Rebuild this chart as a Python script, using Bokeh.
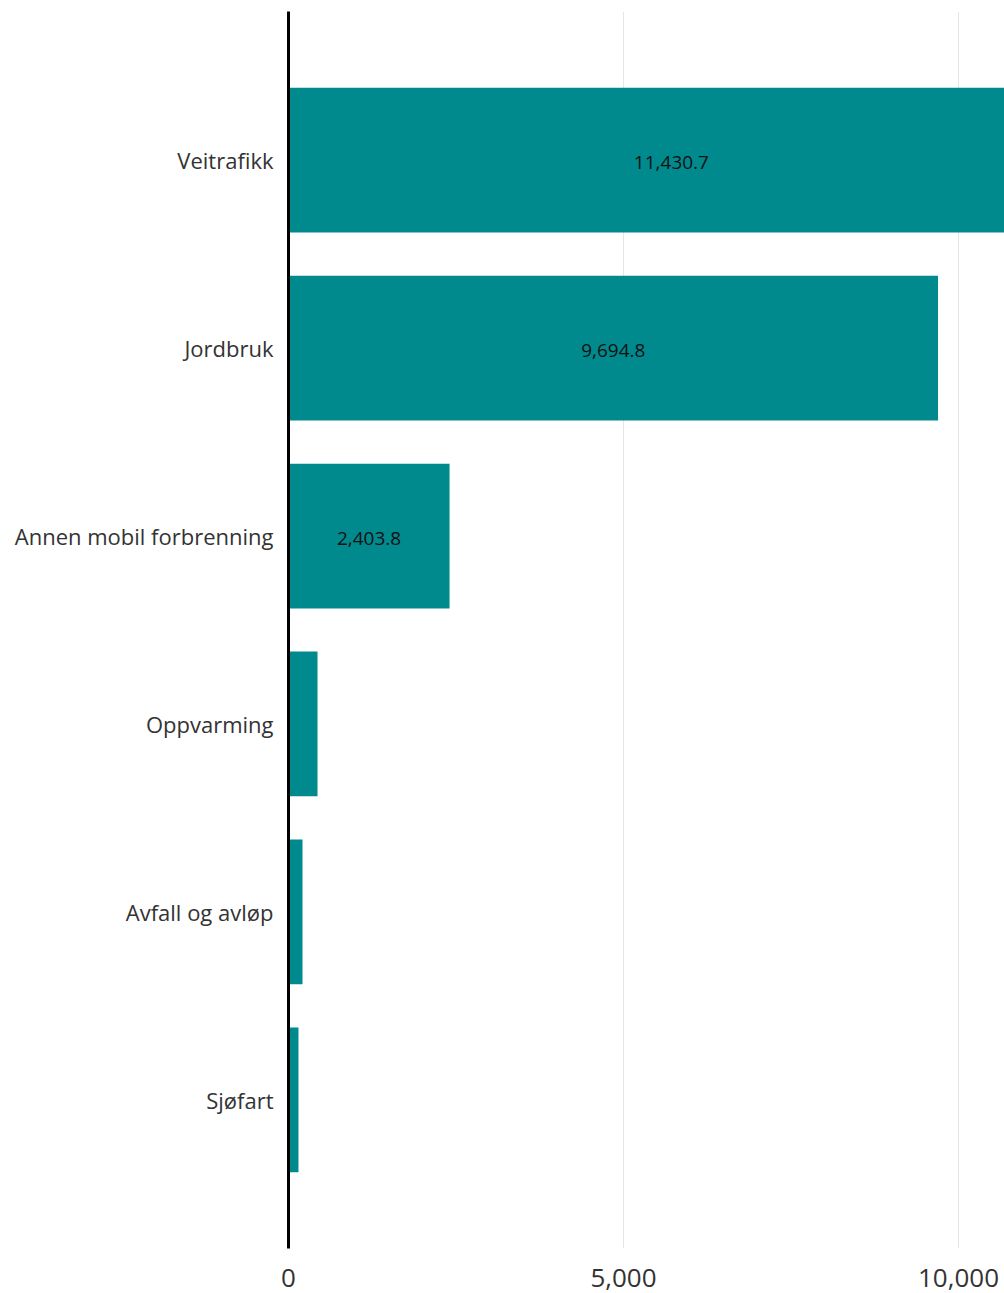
from bokeh.plotting import figure
from bokeh.models import ColumnDataSource, FactorRange, NumeralTickFormatter, FixedTicker
from bokeh.core.properties import value
from bokeh.embed import file_html
from bokeh.resources import INLINE

categories = ["Veitrafikk", "Jordbruk", "Annen mobil forbrenning", "Oppvarming", "Avfall og avløp", "Sjøfart"]
values = [11430.7, 9694.8, 2403.8, 433.0, 209.0, 149.0]
labels = ["11,430.7", "9,694.8", "2,403.8", "", "", ""]
x_ticks = [0, 5000, 10000]

src = ColumnDataSource(dict(cat=categories, val=values, half=[v / 2 for v in values], lab=labels))

p = figure(
    width=1004, height=1293,
    y_range=FactorRange(factors=list(reversed(categories)), range_padding=0.29, range_padding_units="absolute"),
    x_range=(0, 10687),
    output_backend="svg", toolbar_location=None,
    min_border_left=288, min_border_top=11, min_border_bottom=45, min_border_right=0,
)
p.hbar(y="cat", right="val", left=0, height=0.77, source=src, color="#008A8E", line_color=None)
p.text(x="half", y="cat", text="lab", source=src, text_align="center", text_baseline="middle",
       text_font=value("Open Sans"), text_font_size="19px", text_color="#111111", y_offset=2)

p.outline_line_color = None
p.background_fill_color = "white"
p.border_fill_color = "white"

p.xgrid.grid_line_color = "#e6e6e6"
p.xgrid.grid_line_width = 1
p.ygrid.grid_line_color = None

p.xaxis.ticker = FixedTicker(ticks=x_ticks)
p.xaxis.formatter = NumeralTickFormatter(format="0,0")
p.xaxis.axis_line_color = None
p.xaxis.major_tick_line_color = None
p.xaxis.minor_tick_line_color = None
p.xaxis.major_label_standoff = 14
p.xaxis.major_label_text_font = "Open Sans"
p.xaxis.major_label_text_font_size = "26px"
p.xaxis.major_label_text_color = "#333333"

p.yaxis.axis_line_color = "black"
p.yaxis.axis_line_width = 3
p.yaxis.major_tick_line_color = None
p.yaxis.minor_tick_line_color = None
p.yaxis.major_label_standoff = 9
p.yaxis.major_label_text_font = "Open Sans"
p.yaxis.major_label_text_font_size = "22px"
p.yaxis.major_label_text_color = "#333333"

open("out.html", "w").write(file_html(p, INLINE))
